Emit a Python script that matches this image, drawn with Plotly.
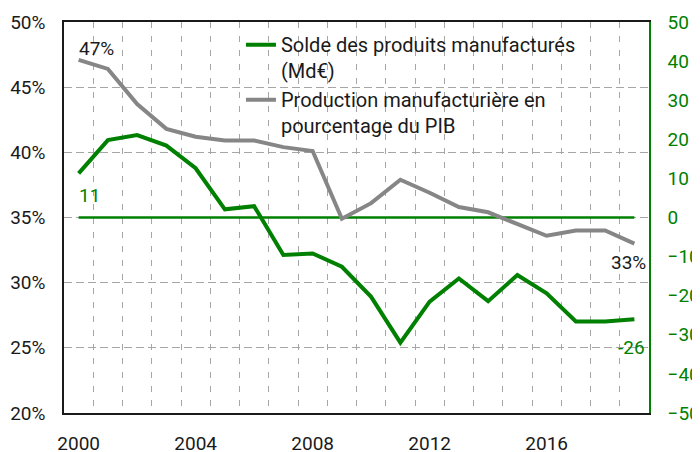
import plotly.graph_objects as go

years = list(range(2000, 2020))
# Solde des produits manufacturés (Md€), axe de droite
solde = [11.3, 19.8, 21.1, 18.4, 12.6, 2.1, 2.9, -9.6, -9.2, -12.6,
         -20.3, -32.0, -21.5, -15.6, -21.4, -14.7, -19.4, -26.6, -26.6, -26.0]
# Production manufacturière en % du PIB, axe de gauche
production = [47.1, 46.4, 43.7, 41.8, 41.2, 40.9, 40.9, 40.4, 40.1, 34.9,
              36.1, 37.9, 36.9, 35.8, 35.4, 34.5, 33.6, 34.0, 34.0, 33.0]
zero = [0] * len(years)

GREEN = "#008000"
GRAY = "#868686"
FONT = "Roboto"

fig = go.Figure()
fig.add_trace(go.Scatter(x=years, y=zero, mode="lines", yaxis="y",
                         line=dict(color=GREEN, width=2.5),
                         showlegend=False, hoverinfo="skip"))
fig.add_trace(go.Scatter(x=years, y=solde, mode="lines", yaxis="y",
                         name="Solde des produits manufacturés<br>(Md€)",
                         line=dict(color=GREEN, width=4)))
fig.add_trace(go.Scatter(x=years, y=production, mode="lines", yaxis="y2",
                         name="Production manufacturière en<br>pourcentage du PIB",
                         line=dict(color=GRAY, width=4)))

fig.add_annotation(x=years[0], y=production[0], yref="y2", text="47%",
                   showarrow=False, xanchor="left", yanchor="bottom",
                   xshift=-2, yshift=-2, font=dict(color="#1a1a1a", size=19))
fig.add_annotation(x=years[0], y=solde[0], yref="y", text="11",
                   showarrow=False, xanchor="left", yanchor="top",
                   xshift=-2, yshift=-9, font=dict(color=GREEN, size=19))
fig.add_annotation(x=years[-1], y=production[-1], yref="y2", text="33%",
                   showarrow=False, xanchor="right", yanchor="top",
                   xshift=14, yshift=-5, font=dict(color="#1a1a1a", size=19))
fig.add_annotation(x=years[-1], y=solde[-1], yref="y", text="-26",
                   showarrow=False, xanchor="right", yanchor="top",
                   xshift=13, yshift=-15, font=dict(color=GREEN, size=19))

# white backing behind the legend: hides gridlines but stays under the lines
fig.add_shape(type="rect", xref="paper", yref="paper",
              x0=0.255, x1=0.925, y0=0.716, y1=0.98,
              fillcolor="white", line=dict(width=0), layer="between")

fig.update_layout(
    width=700, height=452,
    # the page body adds 8px on the left and top
    margin=dict(l=56, r=59, t=14, b=47),
    paper_bgcolor="white", plot_bgcolor="white",
    font=dict(family=FONT, size=19, color="#1a1a1a"),
    showlegend=True,
    legend=dict(x=0.3025, y=0.992, xanchor="left", yanchor="top",
                bgcolor="rgba(255,255,255,0)", valign="top", tracegroupgap=0,
                font=dict(size=20, color="#1a1a1a")),
    xaxis=dict(range=[1999.5, 2019.5], tickvals=[2000, 2004, 2008, 2012, 2016],
               showgrid=False, zeroline=False, automargin=False,
               showline=True, linecolor="#1a1a1a", linewidth=1.5, mirror=True,
               ticks="", ticklabelstandoff=12,
               minor=dict(tick0=2000.5, dtick=1, showgrid=True,
                          gridcolor="#a6a6a6", gridwidth=1, griddash="6px,8px")),
    yaxis=dict(side="right", range=[-50, 50], dtick=10, automargin=False,
               showgrid=False, zeroline=False,
               showline=True, linecolor=GREEN, linewidth=1.5,
               tickfont=dict(color=GREEN), ticks="", ticklabelstandoff=13),
    yaxis2=dict(side="left", overlaying="y", range=[20, 50], dtick=5,
                automargin=False,
                ticksuffix="%", showgrid=True, gridcolor="#a6a6a6", gridwidth=1,
                griddash="8px,4px", zeroline=False,
                showline=True, linecolor="#1a1a1a", linewidth=1.5,
                ticks="", ticklabelstandoff=13),
)

fig.write_html("out.html")
